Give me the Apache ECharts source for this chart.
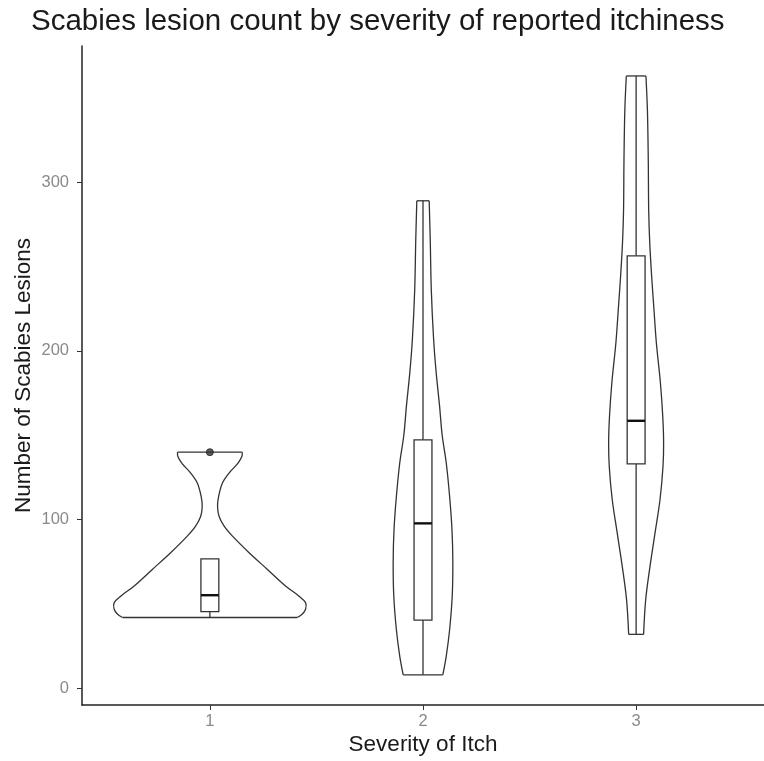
<!DOCTYPE html>
<html>
<head>
<meta charset="utf-8">
<script src="https://cdn.jsdelivr.net/npm/echarts@6/dist/echarts.min.js"></script>
<style>
  html, body { margin: 0; padding: 0; background: #fff; }
  #chart { width: 764px; height: 761px; }
</style>
</head>
<body>
<div id="chart"></div>
<script>
// categories on the x axis
const categories = ['1', '2', '3'];
const yTicks = [0, 100, 200, 300];

// violin outlines: [lesion count, half width in category units], top to bottom
const violin1 = [
  [140, 0.152], [137.4, 0.150], [133.5, 0.132], [127.6, 0.090], [121.7, 0.059],
  [113.8, 0.041], [107.9, 0.036], [102, 0.043], [96.1, 0.067], [90.2, 0.106],
  [80.4, 0.184], [70.5, 0.270], [60.7, 0.355], [54.8, 0.417], [50.8, 0.449],
  [46.9, 0.449], [43.9, 0.433], [42, 0.410]
];
const violin2 = [
  [289, 0.029], [265.7, 0.034], [236, 0.039], [206.5, 0.050], [187, 0.062],
  [167, 0.078], [150, 0.090], [133.7, 0.109], [113.6, 0.125], [94, 0.136],
  [74.6, 0.140], [54.4, 0.137], [34.9, 0.125], [19, 0.109], [8, 0.093]
];
const violin3 = [
  [363, 0.046], [342.6, 0.053], [313, 0.057], [283.4, 0.059], [263.9, 0.064],
  [244, 0.073], [224, 0.084], [204.7, 0.095], [181, 0.114], [161, 0.125],
  [145.6, 0.129], [131.4, 0.126], [111.8, 0.112], [92.3, 0.089], [72.2, 0.065],
  [52.7, 0.045], [32, 0.035]
];

// box plot statistics per category
const boxMin = [42, 8, 32];
const boxQ1 = [45.5, 40.4, 133];
const boxMedian = [55.2, 97.8, 158.6];
const boxQ3 = [76.8, 147.3, 256.4];
const boxMax = [76.8, 289, 363];
const outliers = [[1, 140]];

const violins = [violin1, violin2, violin3];
const boxHalf = 0.042;
const ink = '#333333';

const chart = echarts.init(document.getElementById('chart'), null, {renderer: 'canvas'});

function renderViolin(params, api) {
  const i = api.value(0) - 1;
  const x = i + 1;
  const prof = violins[i];
  const left = prof.map(p => api.coord([x - p[1], p[0]]));
  const right = prof.map(p => api.coord([x + p[1], p[0]]));
  const style = {stroke: ink, lineWidth: 1.3, fill: null};
  return {
    type: 'group',
    children: [
      {type: 'polyline', shape: {points: left, smooth: 0.35}, style: style},
      {type: 'polyline', shape: {points: right, smooth: 0.35}, style: style},
      {type: 'line', shape: {x1: left[0][0], y1: left[0][1], x2: right[0][0], y2: right[0][1]}, style: style},
      {type: 'line', shape: {x1: left[left.length - 1][0], y1: left[left.length - 1][1],
        x2: right[right.length - 1][0], y2: right[right.length - 1][1]}, style: style}
    ]
  };
}

function renderBox(params, api) {
  const x = api.value(0);
  const pMin = api.coord([x, api.value(1)]);
  const pQ1 = api.coord([x, api.value(2)]);
  const pMed = api.coord([x, api.value(3)]);
  const pQ3 = api.coord([x, api.value(4)]);
  const pMax = api.coord([x, api.value(5)]);
  const l = api.coord([x - boxHalf, 0])[0];
  const r = api.coord([x + boxHalf, 0])[0];
  const style = {stroke: ink, lineWidth: 1.3, fill: null};
  return {
    type: 'group',
    children: [
      {type: 'line', shape: {x1: pMin[0], y1: pMin[1], x2: pQ1[0], y2: pQ1[1]}, style: style},
      {type: 'line', shape: {x1: pQ3[0], y1: pQ3[1], x2: pMax[0], y2: pMax[1]}, style: style},
      {type: 'rect', shape: {x: l, y: pQ3[1], width: r - l, height: pQ1[1] - pQ3[1]}, style: style},
      {type: 'line', shape: {x1: l, y1: pMed[1], x2: r, y2: pMed[1]}, style: {stroke: '#111', lineWidth: 2.4}}
    ]
  };
}

const boxData = categories.map((c, i) => [Number(c), boxMin[i], boxQ1[i], boxMedian[i], boxQ3[i], boxMax[i]]);

const option = {
  animation: false,
  backgroundColor: '#ffffff',
  title: {
    text: 'Scabies lesion count by severity of reported itchiness',
    left: 26,
    top: 2,
    textStyle: {fontFamily: 'Liberation Sans', fontSize: 29.5, fontWeight: 'normal', color: '#1a1a1a'}
  },
  grid: {left: 82, right: -3, top: 46, bottom: 54},
  xAxis: {
    type: 'value',
    min: 0.4,
    max: 3.6,
    name: 'Severity of Itch',
    nameLocation: 'middle',
    nameGap: 28,
    nameMoveOverlap: false,
    nameTextStyle: {fontFamily: 'Liberation Sans', fontSize: 22.5, color: '#1a1a1a'},
    axisLine: {show: true, onZero: false, lineStyle: {color: '#222', width: 1.5}},
    axisTick: {show: true, length: 5, customValues: categories.map(Number), lineStyle: {color: '#333'}},
    axisLabel: {
      customValues: categories.map(Number),
      formatter: v => String(v),
      margin: 8,
      fontFamily: 'Liberation Sans', fontSize: 16.5, color: '#8a8a8a'
    },
    splitLine: {show: false}
  },
  yAxis: {
    type: 'value',
    min: -9.87,
    max: 380.75,
    name: 'Number of Scabies Lesions',
    nameLocation: 'middle',
    nameGap: 47,
    nameMoveOverlap: false,
    nameTextStyle: {fontFamily: 'Liberation Sans', fontSize: 22.5, color: '#1a1a1a'},
    axisLine: {show: true, onZero: false, lineStyle: {color: '#222', width: 1.5}},
    axisTick: {show: true, length: 5, customValues: yTicks, lineStyle: {color: '#333'}},
    axisLabel: {
      customValues: yTicks,
      margin: 13,
      fontFamily: 'Liberation Sans', fontSize: 16.5, color: '#8a8a8a'
    },
    splitLine: {show: false}
  },
  series: [
    {
      type: 'custom',
      renderItem: renderViolin,
      data: categories.map(c => [Number(c)]),
      encode: {x: 0},
      silent: true
    },
    {
      type: 'custom',
      renderItem: renderBox,
      data: boxData,
      encode: {x: 0, y: [1, 2, 3, 4, 5]},
      silent: true
    },
    {
      type: 'scatter',
      data: outliers,
      symbolSize: 7,
      itemStyle: {color: '#333333', borderColor: '#222', borderWidth: 1},
      silent: true
    }
  ]
};

chart.setOption(option);
window.addEventListener('resize', chart.resize);
</script>
</body>
</html>
